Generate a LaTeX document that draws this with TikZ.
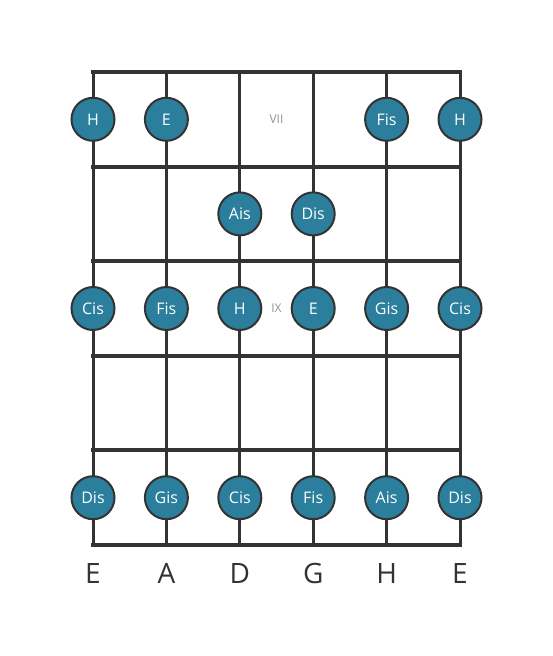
\documentclass[tikz,border=0pt]{standalone}
\usepackage{fontspec}
\setmainfont{Open Sans}
\usetikzlibrary{positioning}
\definecolor{notefill}{HTML}{2B7E9C}
\definecolor{gridline}{HTML}{333333}

\begin{document}
\begin{tikzpicture}[x=1pt,y=-1pt,
  note/.style={circle,draw=gridline,line width=2pt,fill=notefill,minimum size=43pt,inner sep=0pt,text=white,font=\fontsize{16}{16}\selectfont},
  fretnum/.style={text=gray!85,font=\fontsize{12}{12}\selectfont},
  stringname/.style={text=gridline,font=\fontsize{28}{28}\selectfont},
  wire/.style={draw=gridline,line width=3pt},
  fretline/.style={draw=gridline,line width=4pt,line cap=rect}]
\useasboundingbox (0,0) rectangle (553,656);
% strings and frets
 \foreach \s/\x in {1/93,2/166.4,3/239.8,4/313.2,5/386.6,6/460} {
   \coordinate (s\s) at (\x,72);
   \coordinate (b\s) at (\x,545);
 }
 \foreach \f/\y in {0/72,1/166.6,2/261.2,3/355.8,4/450.4,5/545} {
   \coordinate (f\f) at (93,\y);
   \coordinate (g\f) at (460,\y);
 }
 \foreach \r/\y in {1/119.3,2/213.9,3/308.5,4/403.1,5/497.7}
   \coordinate (r\r) at (93,\y);
 \foreach \s in {1,...,6} \draw[wire] (s\s) -- (b\s);
 \foreach \f in {0,...,5} \draw[fretline] (f\f) -- (g\f);
% fret numbers
 \node[fretnum] (vii) at (276.5,119.3) {VII};
 \node[fretnum] (ix) at (276.5,308.5) {IX};
% notes
 \foreach \s/\r/\name in {1/1/H,2/1/E,5/1/Fis,6/1/H,
                          3/2/Ais,4/2/Dis,
                          1/3/Cis,2/3/Fis,3/3/H,4/3/E,5/3/Gis,6/3/Cis,
                          1/5/Dis,2/5/Gis,3/5/Cis,4/5/Fis,5/5/Ais,6/5/Dis}
   \node[note] (n\r\s) at (s\s|-r\r) {\name};
% string names
 \foreach \s/\name in {1/E,2/A,3/D,4/G,5/H,6/E}
   \node[stringname] (t\s) at ([yshift=-28]b\s) {\name};
\end{tikzpicture}
\end{document}
